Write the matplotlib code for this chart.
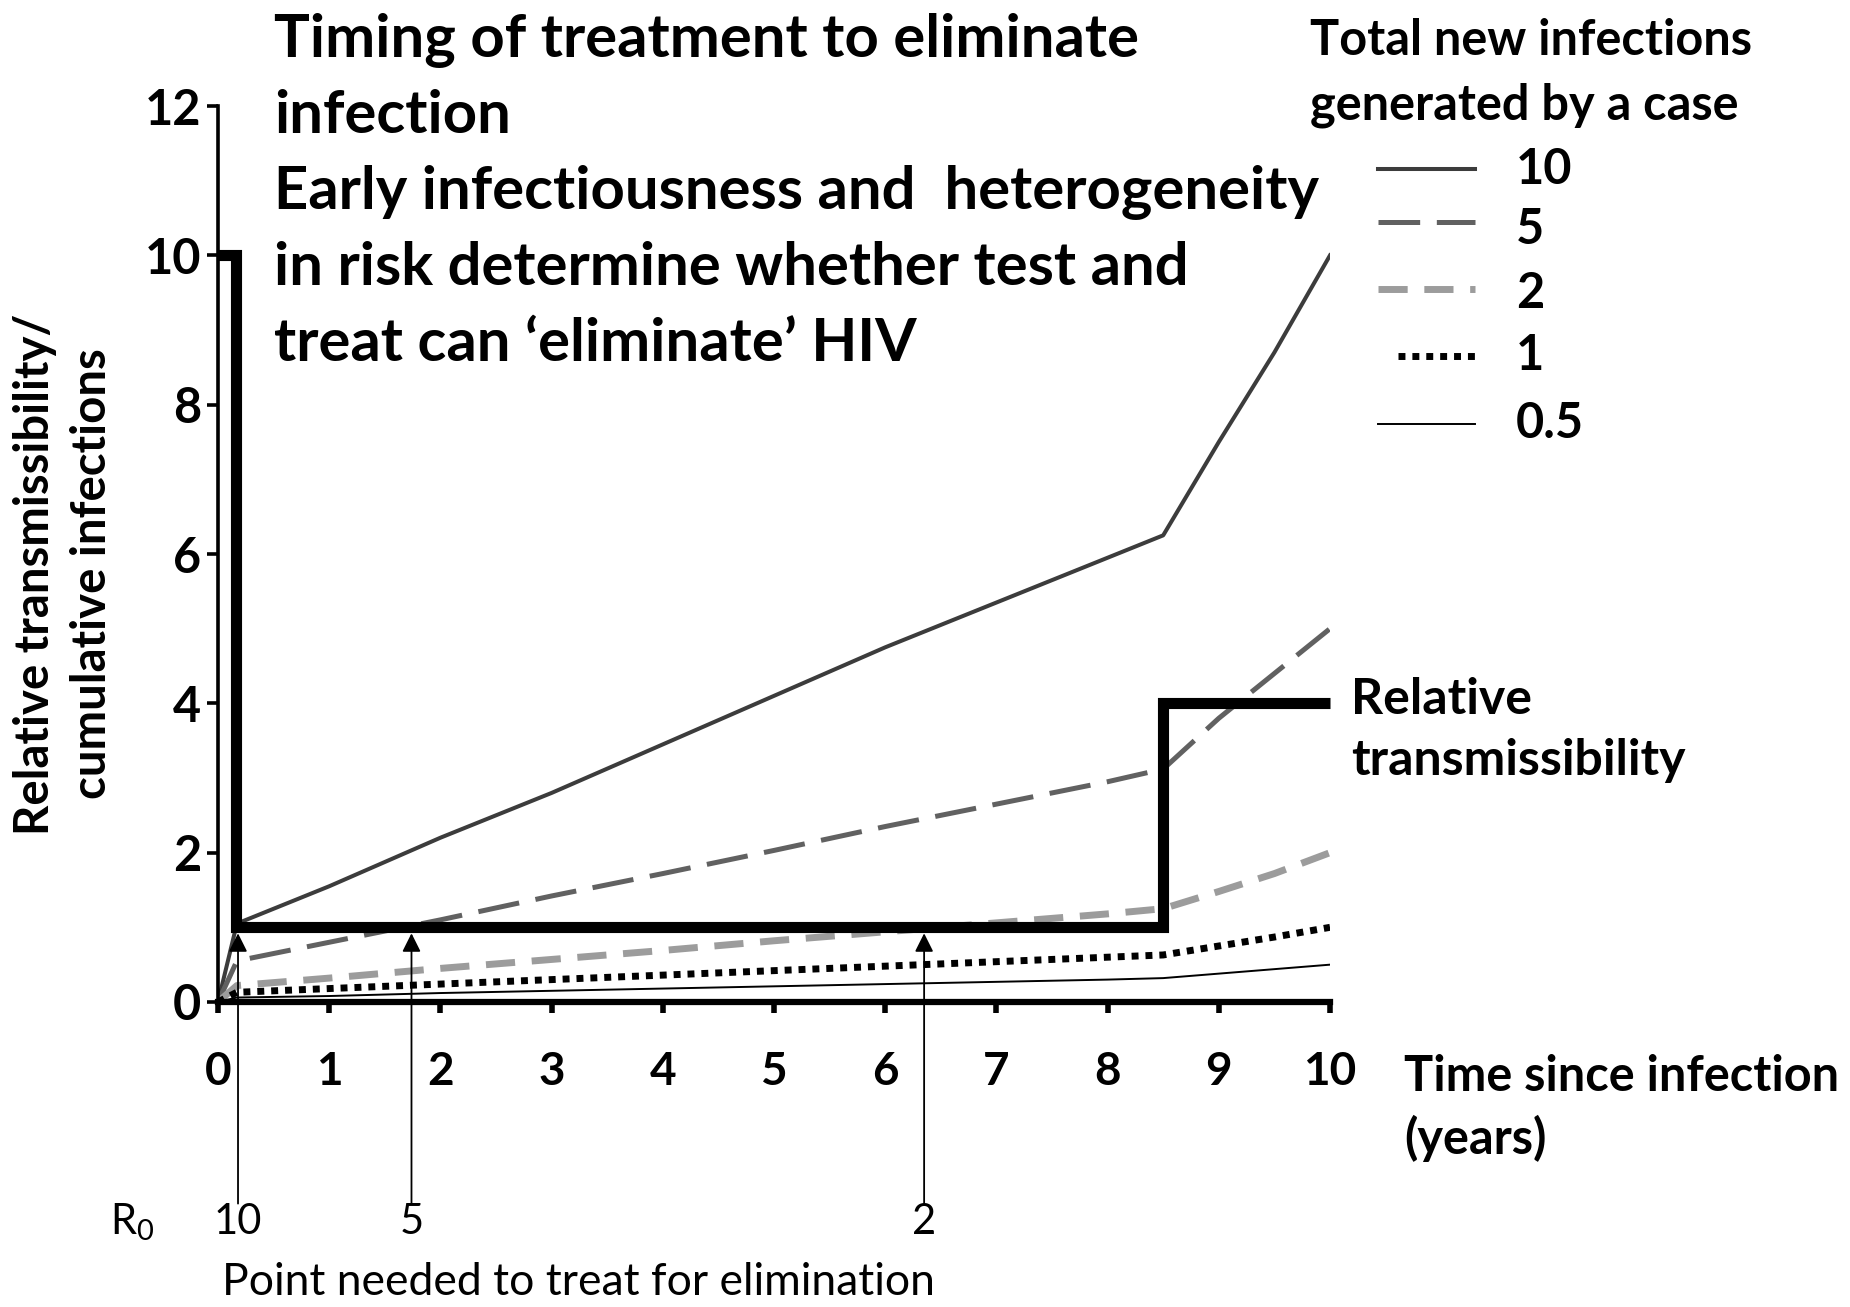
import matplotlib
matplotlib.use("Agg")
import matplotlib.pyplot as plt
from matplotlib.lines import Line2D
from matplotlib import transforms

plt.rcParams['font.family'] = ['Lato', 'DejaVu Sans']
plt.rcParams['lines.scale_dashes'] = False

# Time since infection (years) and cumulative infections generated by a case
years = [0, 0.17, 1, 2, 3, 4, 5, 6, 7, 8, 8.5, 9, 9.5, 10]
cum_r10 = [0, 1.05, 1.55, 2.2, 2.8, 3.45, 4.1, 4.75, 5.35, 5.95, 6.25, 7.5, 8.7, 10.0]
cum_r5 = [0, 0.55, 0.8, 1.1, 1.42, 1.72, 2.03, 2.35, 2.65, 2.95, 3.12, 3.8, 4.4, 5.0]
cum_r2 = [0, 0.22, 0.32, 0.45, 0.57, 0.69, 0.82, 0.94, 1.06, 1.18, 1.25, 1.48, 1.72, 2.0]
cum_r1 = [0, 0.13, 0.18, 0.24, 0.30, 0.36, 0.42, 0.48, 0.54, 0.60, 0.63, 0.75, 0.87, 1.0]
cum_r05 = [0, 0.06, 0.08, 0.12, 0.15, 0.18, 0.21, 0.24, 0.27, 0.30, 0.32, 0.38, 0.44, 0.5]
series_labels = ['10', '5', '2', '1', '0.5']

# Relative transmissibility over the course of infection (step profile)
rt_years = [0, 0.16, 0.16, 8.5, 8.5, 10]
rt_level = [10, 10, 1, 1, 4, 4]

# Latest treatment time that still eliminates infection, per R0
r0_labels = ['10', '5', '2']
treat_by = [0.18, 1.74, 6.35]

x_ticks = [0, 1, 2, 3, 4, 5, 6, 7, 8, 9, 10]
y_ticks = [0, 2, 4, 6, 8, 10, 12]

styles = [
    dict(color='#3c3c3c', lw=2.9, ls='-'),
    dict(color='#616161', lw=3.6, ls=(0, (30, 12))),
    dict(color='#9c9c9c', lw=5.0, ls=(0, (21, 12))),
    dict(color='black', lw=5.0, ls=(0, (5, 5))),
    dict(color='black', lw=1.4, ls='-'),
]

W, H = 1850, 1307
fig = plt.figure(figsize=(W / 100, H / 100), dpi=100)
ax = fig.add_axes([218 / W, 1 - 1002 / H, 1112 / W, 896 / H])

for ys, st in zip([cum_r10, cum_r5, cum_r2, cum_r1, cum_r05], styles):
    ax.plot(years, ys, solid_joinstyle='round', dash_capstyle='butt', **st)

ax.plot(rt_years, rt_level, color='black', lw=8, solid_joinstyle='miter',
        solid_capstyle='butt', clip_on=False, zorder=5)

ax.set_xlim(0, 10)
ax.set_ylim(0, 12)
ax.set_xticks(x_ticks)
ax.set_yticks(y_ticks)
ax.spines['top'].set_visible(False)
ax.spines['right'].set_visible(False)
ax.spines['left'].set_linewidth(2.6)
ax.spines['bottom'].set_linewidth(4.5)
ax.spines['bottom'].set_zorder(6)
ax.tick_params(axis='x', direction='out', length=8, width=4, pad=27,
               labelsize=33)
ax.tick_params(axis='y', direction='out', length=8, width=2.6, pad=4,
               labelsize=35)
for lab in ax.get_xticklabels() + ax.get_yticklabels():
    lab.set_fontweight('bold')

# Arrows marking the treatment point for each R0
for t in treat_by:
    ax.annotate('', xy=(t, 0.92), xytext=(t, -2.7),
                arrowprops=dict(arrowstyle='-|>', lw=1.3, color='black',
                                mutation_scale=28, shrinkA=0, shrinkB=0),
                annotation_clip=False)

bt = transforms.blended_transform_factory(ax.transData, fig.transFigure)
for t, lab in zip(treat_by, r0_labels):
    ax.text(t, 1 - 1234 / H, lab, transform=bt, ha='center', va='baseline',
            fontsize=30)
fig.text(132 / W, 1 - 1234 / H, r'R$_\mathregular{0}$', ha='center',
         va='baseline', fontsize=30)
fig.text(578 / W, 1 - 1295 / H, 'Point needed to treat for elimination',
         ha='center', va='baseline', fontsize=32)

# Title block
title_lines = ['Timing of treatment to eliminate', 'infection',
               'Early infectiousness and  heterogeneity',
               'in risk determine whether test and',
               'treat can \u2018eliminate\u2019 HIV']
for i, line in enumerate(title_lines):
    fig.text(274 / W, 1 - (57 + 76 * i) / H, line, ha='left', va='baseline',
             fontsize=43, fontweight='bold')

# Axis titles
fig.text(35 / W, 1 - 574 / H, 'Relative transmissibility/', rotation=90,
         ha='center', va='center', fontsize=34, fontweight='bold')
fig.text(92 / W, 1 - 574 / H, 'cumulative infections', rotation=90,
         ha='center', va='center', fontsize=34, fontweight='bold')
fig.text(1404 / W, 1 - 1091 / H, 'Time since infection', ha='left',
         va='baseline', fontsize=35, fontweight='bold')
fig.text(1404 / W, 1 - 1154 / H, '(years)', ha='left', va='baseline',
         fontsize=35, fontweight='bold')

fig.text(1351 / W, 1 - 714 / H, 'Relative', ha='left', va='baseline',
         fontsize=36, fontweight='bold')
fig.text(1351 / W, 1 - 775 / H, 'transmissibility', ha='left',
         va='baseline', fontsize=36, fontweight='bold')

# Legend
fig.text(1310 / W, 1 - 55 / H, 'Total new infections', ha='left',
         va='baseline', fontsize=35, fontweight='bold')
fig.text(1310 / W, 1 - 119 / H, 'generated by a case', ha='left',
         va='baseline', fontsize=35, fontweight='bold')
line_rows = [169, 222, 289, 356, 424]
label_rows = [169, 230, 293, 356, 424]
line_starts = [1378, 1378, 1378, 1398, 1378]
for st, lab, ly, ty, x0 in zip(styles, series_labels, line_rows, label_rows,
                               line_starts):
    fig.add_artist(Line2D([x0 / W, 1475 / W], [1 - ly / H, 1 - ly / H],
                          transform=fig.transFigure, dash_capstyle='butt',
                          **st))
    fig.text(1516 / W, 1 - ty / H, lab, ha='left', va='center',
             fontsize=35, fontweight='bold')

fig.savefig('out.png', dpi=100)
